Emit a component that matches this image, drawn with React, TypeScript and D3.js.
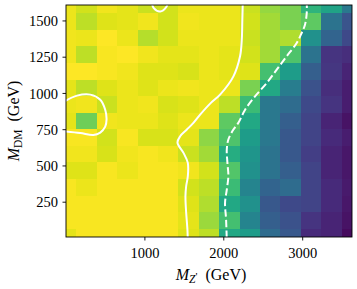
import React from 'react';
import * as d3 from 'd3';

// grid centres (GeV)
const mZp = [0, 259, 518, 777, 1036, 1295, 1554, 1813, 2071, 2330, 2589, 2848, 3107, 3366, 3625];
const mDM = [10, 124, 239, 353, 467, 581, 696, 810, 924, 1039, 1153, 1267, 1381, 1496, 1610];

// colour values, rows listed from top (M_DM = 1610) to bottom (M_DM = 10)
const cells = [
  [0.97, 0.93, 0.98, 0.96, 0.92, 0.93, 0.97, 0.97, 0.97, 0.92, 0.84, 0.80, 0.65, 0.58, 0.40],
  [0.97, 0.90, 0.95, 0.96, 0.98, 0.93, 0.98, 0.97, 0.97, 0.93, 0.86, 0.80, 0.75, 0.38, 0.26],
  [0.98, 0.97, 1.00, 0.97, 0.89, 0.93, 0.97, 0.97, 0.97, 0.92, 0.86, 0.88, 0.50, 0.32, 0.22],
  [0.98, 0.90, 0.99, 1.00, 0.98, 0.96, 0.96, 0.97, 0.96, 0.93, 0.86, 0.72, 0.38, 0.15, 0.13],
  [1.00, 1.00, 0.99, 0.98, 0.95, 0.95, 0.94, 0.97, 0.96, 0.95, 0.70, 0.55, 0.30, 0.16, 0.10],
  [0.96, 0.90, 0.95, 0.97, 0.95, 0.97, 0.98, 0.97, 0.97, 0.80, 0.60, 0.42, 0.25, 0.13, 0.08],
  [0.97, 0.98, 0.92, 0.97, 0.98, 0.94, 0.95, 0.97, 0.90, 0.68, 0.40, 0.35, 0.22, 0.15, 0.08],
  [0.96, 0.78, 0.98, 0.97, 0.97, 0.95, 0.97, 0.97, 0.75, 0.60, 0.40, 0.30, 0.20, 0.10, 0.05],
  [0.99, 0.99, 0.93, 0.99, 0.94, 0.94, 0.96, 0.83, 0.72, 0.55, 0.40, 0.27, 0.20, 0.12, 0.08],
  [0.98, 0.98, 0.94, 0.98, 0.99, 0.98, 0.92, 0.86, 0.62, 0.52, 0.38, 0.27, 0.18, 0.10, 0.06],
  [0.95, 0.95, 0.99, 0.97, 0.99, 0.99, 0.98, 0.93, 0.73, 0.50, 0.38, 0.30, 0.20, 0.10, 0.06],
  [0.99, 0.97, 0.99, 0.99, 0.99, 0.99, 0.93, 0.90, 0.68, 0.45, 0.32, 0.35, 0.20, 0.12, 0.07],
  [0.99, 0.99, 0.99, 0.99, 0.99, 0.99, 0.95, 0.88, 0.60, 0.50, 0.27, 0.22, 0.20, 0.12, 0.06],
  [0.99, 0.99, 0.99, 0.99, 0.99, 0.99, 0.96, 0.85, 0.70, 0.45, 0.30, 0.25, 0.15, 0.10, 0.05],
  [0.96, 0.99, 0.99, 0.99, 0.99, 0.99, 0.95, 0.90, 0.60, 0.55, 0.35, 0.27, 0.12, 0.10, 0.03],
];

// contour lines [M_Z', M_DM]
const solidRight: [number, number][] = [
  [2241, 1640], [2235, 1508], [2228, 1371], [2206, 1256], [2122, 1118], [1953, 992],
  [1827, 930], [1700, 854], [1615, 797], [1532, 751], [1447, 705], [1413, 661],
  [1489, 590], [1544, 521], [1544, 429], [1523, 360], [1514, 291], [1523, 179],
  [1539, 62], [1544, -20],
];
const solidTop: [number, number][] = [
  [1085, 1640], [1110, 1590], [1195, 1565], [1270, 1595], [1300, 1640],
];
const solidLeft: [number, number][] = [
  [-20, 945], [139, 985], [308, 992], [434, 957], [497, 888], [514, 820],
  [497, 771], [434, 730], [346, 713], [181, 727], [-20, 739],
];
const dashed: [number, number][] = [
  [3051, 1640], [3051, 1554], [3029, 1474], [2987, 1417], [2924, 1348], [2797, 1256],
  [2671, 1164], [2544, 1072], [2396, 980], [2270, 888], [2187, 799], [2122, 751],
  [2058, 682], [2038, 613], [2046, 521], [2058, 429], [2038, 337], [2016, 246],
  [2029, 131], [2038, -20],
];

const xTicks = [1000, 2000, 3000];
const yTicks = [250, 500, 750, 1000, 1250, 1500];

const W = 357;
const H = 289;
const left = 66;
const right = 352;
const top = 5;
const bottom = 237;
const font = "'Liberation Serif', 'DejaVu Serif', serif";

const App = () => {
  const x = d3.scaleLinear().domain([0, 3625]).range([left, right]);
  const y = d3.scaleLinear().domain([10, 1610]).range([bottom, top]);
  const color = d3.scaleSequential(d3.interpolateViridis).domain([0, 1]);

  const edges = (c: number[]) =>
    c.map((v, i) => [
      i === 0 ? v : (c[i - 1] + v) / 2,
      i === c.length - 1 ? v : (v + c[i + 1]) / 2,
    ]);
  const xe = edges(mZp);
  const ye = edges(mDM);

  const line = d3
    .line<[number, number]>()
    .x((d) => x(d[0]))
    .y((d) => y(d[1]))
    .curve(d3.curveCatmullRom);

  const rects: React.ReactNode[] = [];
  cells.forEach((row, ri) => {
    const yi = mDM.length - 1 - ri;
    row.forEach((v, ci) => {
      const x0 = x(xe[ci][0]);
      const x1 = x(xe[ci][1]);
      const y0 = y(ye[yi][1]);
      const y1 = y(ye[yi][0]);
      rects.push(
        <rect
          key={`${ri}-${ci}`}
          x={x0}
          y={y0}
          width={x1 - x0}
          height={y1 - y0}
          fill={color(v)}
          shapeRendering="crispEdges"
        />
      );
    });
  });

  return (
    <svg
      width={W}
      height={H}
      style={{ position: 'absolute', left: 0, top: 0, background: '#fff' }}
      fontFamily={font}
    >
      <defs>
        <clipPath id="plot">
          <rect x={left} y={top} width={right - left} height={bottom - top} />
        </clipPath>
      </defs>
      <g>{rects}</g>
      <g clipPath="url(#plot)" fill="none" stroke="#fff" strokeWidth={2}>
        <path d={line(solidRight) || ''} />
        <path d={line(solidTop) || ''} />
        <path d={line(solidLeft) || ''} />
        <path d={line(dashed) || ''} strokeDasharray="7.4 3.2" />
      </g>
      <rect
        x={left}
        y={top}
        width={right - left}
        height={bottom - top}
        fill="none"
        stroke="#000"
        strokeWidth={0.9}
      />
      {xTicks.map((t) => (
        <g key={t} transform={`translate(${x(t)},${bottom})`}>
          <line y2={3.5} stroke="#000" strokeWidth={0.9} />
          <text y={21} textAnchor="middle" fontSize={14.5} fill="#000">
            {t}
          </text>
        </g>
      ))}
      {yTicks.map((t) => (
        <g key={t} transform={`translate(${left},${y(t)})`}>
          <line x2={-3.5} stroke="#000" strokeWidth={0.9} />
          <text x={-8} dy="0.35em" textAnchor="end" fontSize={14.5} fill="#000">
            {t}
          </text>
        </g>
      ))}
      <text x={(left + right) / 2 + 2} y={280} textAnchor="middle" fontSize={16} fill="#000">
        <tspan fontStyle="italic">M</tspan>
        <tspan fontStyle="italic" fontSize={11.5} dy={3}>Z</tspan>
        <tspan fontSize={11} dy={-3}>'</tspan>
        <tspan>{'\u2002'}(GeV)</tspan>
      </text>
      <text
        transform={`translate(19,${(top + bottom) / 2}) rotate(-90)`}
        textAnchor="middle"
        fontSize={16}
        fill="#000"
      >
        <tspan fontStyle="italic">M</tspan>
        <tspan fontSize={11.5} dy={3}>DM</tspan>
        <tspan dy={-3}>{'\u2002'}(GeV)</tspan>
      </text>
    </svg>
  );
};

export default App;
